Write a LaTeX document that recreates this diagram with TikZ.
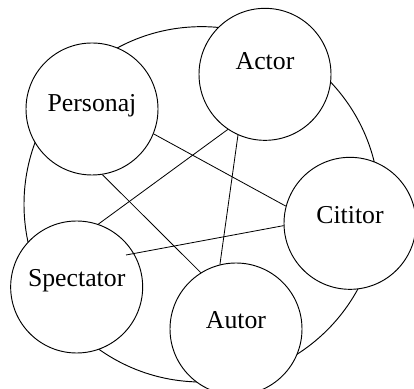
\documentclass[tikz,border=0pt]{standalone}
\usepackage{fontspec}
\setmainfont{Liberation Serif}
\usepackage{tikz}
\usetikzlibrary{positioning,calc}

\begin{document}
\begin{tikzpicture}[
  font=\fontsize{22}{26}\selectfont,
  role/.style={circle, draw=black, fill=white, line width=.8pt, minimum size=3.96cm,
    inner sep=0pt, text height=.5cm, text depth=.5cm},
  link/.style={draw=black, line width=.7pt}
]
  \useasboundingbox (0,0) rectangle (12.42,11.67);

  % The outer ring passes behind the five roles.
  \draw[line width=.8pt] (6.05,5.54) circle (5.33cm);

  \node[role, text depth=.32cm] (personaj) at (2.76,8.40) {Personaj};
  \node[role, text depth=.77cm] (actor) at (7.95,9.44) {Actor};
  \node[role] (cititor) at (10.50,4.97) {Cititor};
  \node[role] (spectator) at (2.30,3.06) {Spectator};
  \node[role, text depth=.53cm] (autor) at (7.08,1.80) {Autor};
  \coordinate (spectatorin) at (3.78,4.02);

  \draw[link] (personaj.-22) -- (cititor.165);
  \draw[link] (personaj.-81) -- (autor.122);
  \draw[link] (actor.236) -- (spectator.71);
  \draw[link] (actor.246) -- (autor.104);
  \draw[link] (cititor.182) -- (spectatorin);

\end{tikzpicture}
\end{document}
